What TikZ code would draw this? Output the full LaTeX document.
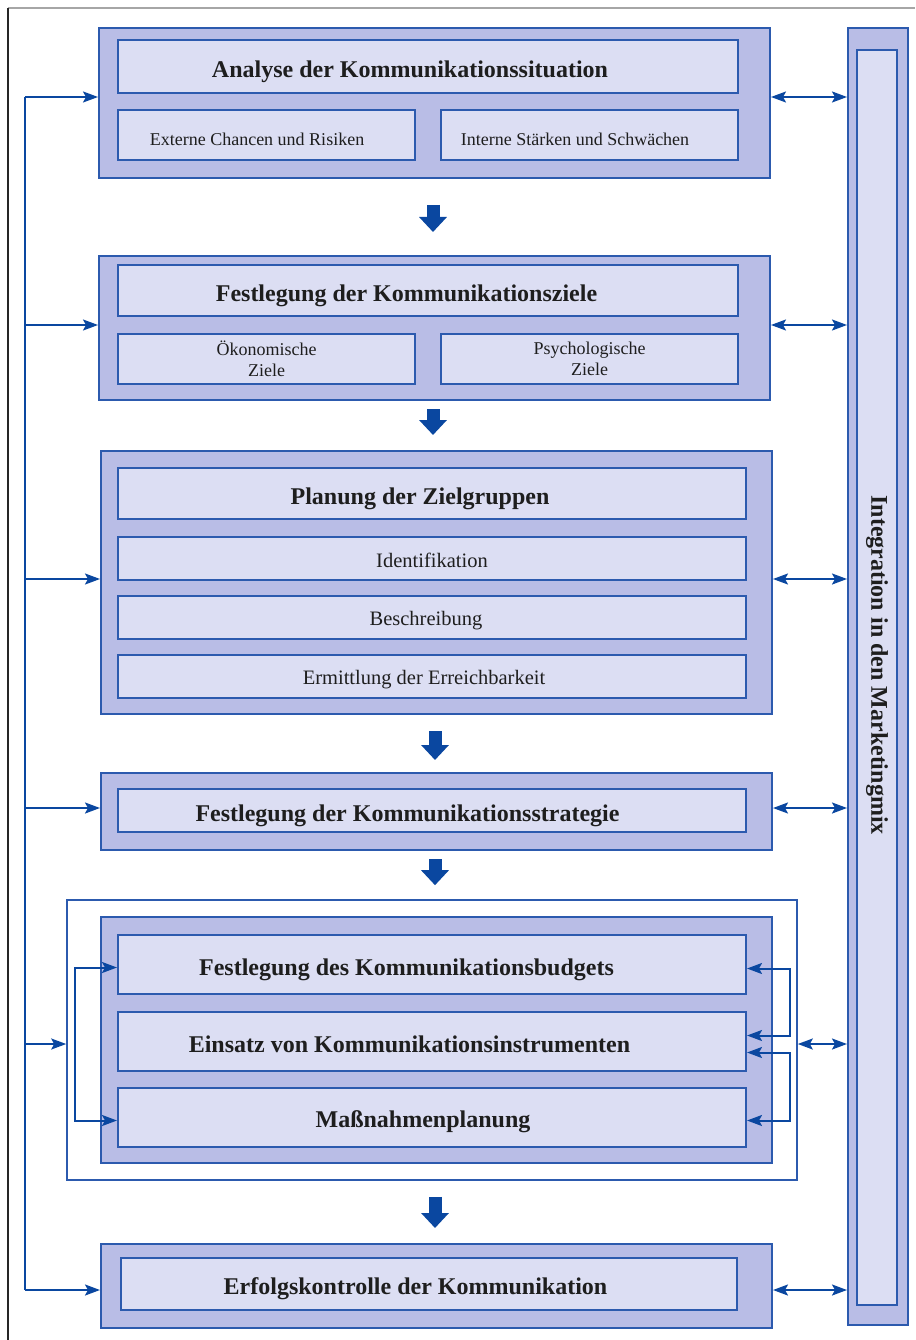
\documentclass[tikz,border=0pt]{standalone}
\usepackage{fontspec}
\setmainfont{Liberation Serif}
\usetikzlibrary{arrows.meta,calc}
\definecolor{outerfill}{HTML}{B9BDE6}
\definecolor{innerfill}{HTML}{DCDEF3}
\definecolor{edgeblue}{HTML}{2C5AAE}
\definecolor{arrowblue}{HTML}{0A47A0}
\definecolor{txt}{HTML}{1E1E1E}
\newcommand{\tsz}{\fontsize{24}{28}\selectfont\bfseries}
\newcommand{\ssz}{\fontsize{18}{21}\selectfont}
\newcommand{\msz}{\fontsize{20.5}{24}\selectfont}
\newcommand{\sh}[1]{\hspace*{#1pt}}
\newcommand{\dn}[2]{\raisebox{-#1pt}[\height][\depth]{#2}}
\begin{document}
\begin{tikzpicture}[x=1pt,y=-1pt,
  outerbox/.style={draw=edgeblue, line width=2pt, fill=outerfill, inner sep=0pt},
  innerbox/.style={draw=edgeblue, line width=2pt, fill=innerfill, inner sep=0pt, text=txt},
  framebox/.style={draw=edgeblue, line width=1.6pt, fill=white, inner sep=0pt},
  title/.style={innerbox, font=\tsz},
  small/.style={innerbox, font=\ssz, align=center},
  mid/.style={innerbox, font=\msz},
  bus/.style={draw=arrowblue, line width=2pt},
  arr/.style={draw=arrowblue, line width=2pt, -{Stealth[length=15pt,width=11pt,inset=3pt]}},
  darr/.style={draw=arrowblue, line width=2pt, {Stealth[length=15pt,width=11pt,inset=3pt]}-{Stealth[length=15pt,width=11pt,inset=3pt]}},
  blockarrow/.style={draw=arrowblue, line width=13pt, -{Triangle[length=15pt,width=27pt]}}
]
\useasboundingbox (0,0) rectangle (915,1340);
\fill[white] (0,0) rectangle (915,1340);
% page frame
\draw[gray!70, line width=2.5pt] (8,8) -- (915,8);
\draw[black!85, line width=1.6pt] (8,8) -- (8,1340);

% Box 1
\node[outerbox, minimum width=671pt, minimum height=150pt] (b1) at (434.5,103) {};
\node[title, minimum width=620pt, minimum height=53pt] (t1) at (428,66.5) {\dn{5}{Analyse der Kommunikationssituation\sh{36}}};
\node[small, minimum width=297pt, minimum height=50pt] (e1) at (266.5,135) {\dn{4}{Externe Chancen und Risiken\sh{19}}};
\node[small, minimum width=297pt, minimum height=50pt] (i1) at (589.5,135) {\dn{4}{Interne Stärken und Schwächen\sh{29}}};

% Box 2
\node[outerbox, minimum width=671pt, minimum height=144pt] (b2) at (434.5,328) {};
\node[title, minimum width=620pt, minimum height=51pt] (t2) at (428,290.5) {\dn{5}{Festlegung der Kommunikationsziele\sh{43}}};
\node[small, minimum width=297pt, minimum height=50pt] (o2) at (266.5,359) {Ökonomische\\Ziele};
\node[small, minimum width=297pt, minimum height=50pt] (p2) at (589.5,359) {Psychologische\\Ziele};

% Box 3
\node[outerbox, minimum width=671pt, minimum height=263pt] (b3) at (436.5,582.5) {};
\node[title, minimum width=628pt, minimum height=51pt] (t3) at (432,493.5) {\dn{5}{Planung der Zielgruppen\sh{24}}};
\node[mid, minimum width=628pt, minimum height=43pt] (id) at (432,558.5) {\dn{2}{Identifikation}};
\node[mid, minimum width=628pt, minimum height=43pt] (be) at (432,617.5) {\dn{3}{Beschreibung\sh{12}}};
\node[mid, minimum width=628pt, minimum height=43pt] (er) at (432,676.5) {\dn{3}{Ermittlung der Erreichbarkeit\sh{16}}};

% Box 4
\node[outerbox, minimum width=671pt, minimum height=77pt] (b4) at (436.5,811.5) {};
\node[title, minimum width=628pt, minimum height=43pt] (t4) at (432,810.5) {\dn{5}{Festlegung der Kommunikationsstrategie\sh{49}}};

% Box 5 with frame
\node[framebox, minimum width=730pt, minimum height=280pt] (f5) at (432,1040) {};
\node[outerbox, minimum width=671pt, minimum height=246pt] (b5) at (436.5,1040) {};
\node[title, minimum width=628pt, minimum height=59pt] (bu) at (432,964.5) {\dn{5}{Festlegung des Kommunikationsbudgets\sh{51}}};
\node[title, minimum width=628pt, minimum height=59pt] (ei) at (432,1041.5) {\dn{3}{Einsatz von Kommunikationsinstrumenten\sh{45}}};
\node[title, minimum width=628pt, minimum height=59pt] (ma) at (432,1117.5) {\dn{4}{Maßnahmenplanung\sh{18}}};

% Box 6
\node[outerbox, minimum width=671pt, minimum height=84pt] (b6) at (436.5,1286) {};
\node[title, minimum width=616pt, minimum height=52pt] (t6) at (429,1284) {\dn{5}{Erfolgskontrolle der Kommunikation\sh{27}}};

% right column
\node[outerbox, minimum width=60pt, minimum height=1297pt] (col) at (878,676.5) {};
\node[innerbox, minimum width=40pt, minimum height=1255pt, font=\tsz] (coli) at (877,677.5) {\rotatebox{-90}{Integration in den Marketingmix\sh{25}}};

% block arrows
\draw[blockarrow] ($(b1.south)+(-1.5,26)$) -- ($(b2.north)+(-1.5,-23)$);
\draw[blockarrow] ($(b2.south)+(-1.5,8)$) -- ($(b3.north)+(-3.5,-15)$);
\draw[blockarrow] ($(b3.south)+(-1.5,16)$) -- ($(b4.north)+(-1.5,-12)$);
\draw[blockarrow] ($(b4.south)+(-1.5,8)$) -- ($(f5.north)+(3,-14)$);
\draw[blockarrow] ($(f5.south)+(3,16)$) -- ($(b6.north)+(-1.5,-15)$);

% left bus
\coordinate (L1) at (25,97);
\coordinate (L2) at (25,325);
\coordinate (L3) at (25,579);
\coordinate (L4) at (25,808);
\coordinate (L5) at (25,1044);
\coordinate (L6) at (25,1290);
\draw[bus] (L1) -- (L6);
\draw[arr] (L1) -- (L1 -| b1.west);
\draw[arr] (L2) -- (L2 -| b2.west);
\draw[arr] (L3) -- (L3 -| b3.west);
\draw[arr] (L4) -- (L4 -| b4.west);
\draw[arr] (L5) -- (L5 -| f5.west);
\draw[arr] (L6) -- (L6 -| b6.west);

% right double arrows
\coordinate (R1) at (810,97);
\coordinate (R2) at (810,325);
\coordinate (R3) at (810,579);
\coordinate (R4) at (810,808);
\coordinate (R5) at (810,1044);
\coordinate (R6) at (810,1290);
\draw[darr] (R1 -| b1.east) -- (R1 -| col.west);
\draw[darr] (R2 -| b2.east) -- (R2 -| col.west);
\draw[darr] (R3 -| b3.east) -- (R3 -| col.west);
\draw[darr] (R4 -| b4.east) -- (R4 -| col.west);
\draw[darr] (R5 -| f5.east) -- (R5 -| col.west);
\draw[darr] (R6 -| b6.east) -- (R6 -| col.west);

% feedback brackets in box 5
\draw[darr] ($(bu.west)+(0,3)$) -- ++(-42,0) |- ($(ma.west)+(0,3)$);
\draw[darr] ($(bu.east)+(0,4)$) -- ++(43,0) |- ($(ei.east)+(0,-6)$);
\draw[darr] ($(ei.east)+(0,11)$) -- ++(43,0) |- ($(ma.east)+(0,3)$);
\end{tikzpicture}
\end{document}
